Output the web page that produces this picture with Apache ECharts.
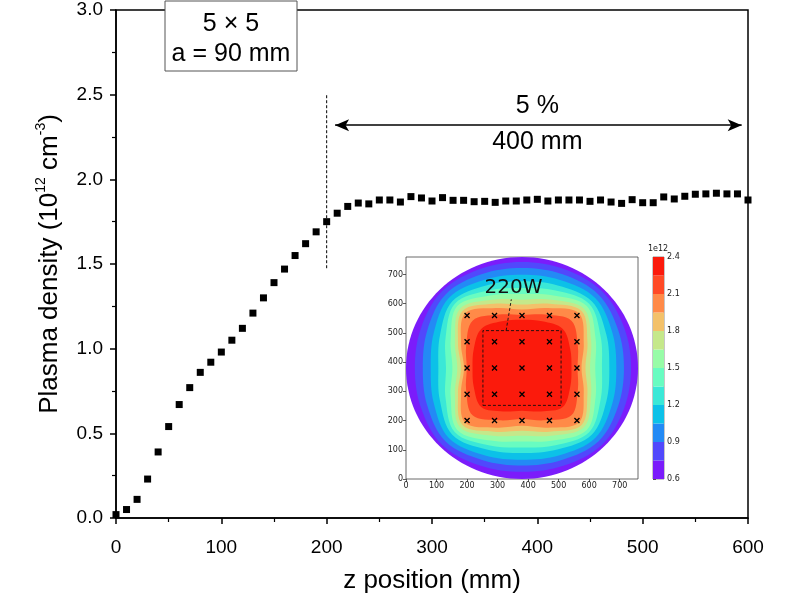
<!DOCTYPE html>
<html><head><meta charset="utf-8">
<script src="https://cdn.jsdelivr.net/npm/echarts@6/dist/echarts.min.js"></script>
<style>html,body{margin:0;padding:0;background:#fff}#c{width:800px;height:600px}</style>
</head><body><div id="c"></div>
<script>
// ---- main profile data ----
const zPos = [0,10,20,30,40,50,60,70,80,90,100,110,120,130,140,150,160,170,180,190,200,
  210,220,230,240,250,260,270,280,290,300,310,320,330,340,350,360,370,380,390,400,
  410,420,430,440,450,460,470,480,490,500,510,520,530,540,550,560,570,580,590,600];
const density = [0.02,0.05,0.11,0.23,0.39,0.54,0.67,0.77,0.86,0.92,0.98,1.05,1.12,1.21,1.30,1.39,1.47,1.55,1.62,1.69,1.75,
  1.80,1.84,1.86,1.855,1.878,1.878,1.866,1.898,1.89,1.872,1.892,1.876,1.876,1.868,1.87,1.864,1.872,1.872,1.878,1.882,
  1.872,1.878,1.878,1.878,1.87,1.878,1.866,1.858,1.88,1.862,1.862,1.896,1.884,1.90,1.912,1.914,1.918,1.914,1.914,1.878];
const xTicks = [0,100,200,300,400,500,600];
const yTicks = [0,0.5,1.0,1.5,2.0,2.5,3.0];
// annotations (data coordinates)
const dashLineX = [200,200];
const dashLineY = [1.475,2.5];
const spanX = [208,594];
const spanY = 2.32;
const spanTexts = ['5 %','400 mm'];
const spanTextX = 400;
const spanTextY = [2.43,2.22];
const boxTexts = ['5 \u00d7 5','a = 90 mm'];

// ---- inset (contour map) data ----
const probeX = [200,290,380,470,560];
const probeY = [200,290,380,470,560];
const waferCenter = [380,380];
const waferRadius = 380;
const levels = [0.6,0.75,0.9,1.05,1.2,1.35,1.5,1.65,1.8,1.95,2.1,2.25,2.4];
const cbTicks = [0.6,0.9,1.2,1.5,1.8,2.1,2.4];
const bandColors = ['#7b1cfb','#5148fc','#238af5','#0cc1e8','#3ae8d7','#68fcc1',
  '#97fca7','#c5e88a','#f3c16a','#ff8a48','#ff4a26','#fb1a0c'];
// contour boundary radii (mm from wafer centre) at 16 directions, 0deg = +x, counter-clockwise
const contourRadii = [
  [357,362,371,366,363,366,371,358,351,358,371,361,355,361,371,362], // 0.75
  [334,341,355,347,342,347,355,336,325,336,355,341,334,341,355,341], // 0.90
  [309,320,339,326,319,326,339,313,299,313,339,323,314,323,339,320], // 1.05
  [286,299,323,306,297,306,323,291,274,291,323,302,291,302,323,299], // 1.20
  [262,279,311,287,274,287,311,271,249,271,311,286,272,286,311,279], // 1.35
  [240,261,300,269,253,269,300,253,228,253,300,269,252,269,300,261], // 1.50
  [223,245,287,253,234,253,287,238,212,238,287,251,232,251,287,245], // 1.65
  [208,232,276,238,217,238,276,227,200,227,276,236,215,236,276,232], // 1.80
  [195,219,264,222,200,222,264,216,190,216,264,221,198,221,264,219], // 1.95
  [182,198,229,198,182,198,229,198,181,198,229,194,175,194,229,198], // 2.10
  [162,171,189,173,165,173,189,171,162,171,189,161,146,161,189,171]  // 2.25
];
const centerBoxX = [252,508];
const centerBoxY = [252,508];
const leaderX = [328,345];
const leaderY = [508,615];
const insetLabel = '220W';
const insetLabelPos = [352,656];

const FONT = '"Liberation Sans", Arial, sans-serif';
const MFONT = '"DejaVu Sans", sans-serif';

const chart = echarts.init(document.getElementById('c'), null, {renderer:'canvas'});

const insetAxis = (pos) => ({
  gridIndex: 1, type: 'value', min: 0, max: 760, interval: 100, position: pos,
  axisLine: {show: false},
  axisTick: {show: true, length: 3, lineStyle: {color: '#333', width: 0.8}},
  axisLabel: {fontSize: 8, color: '#222', fontFamily: MFONT, margin: 3, showMaxLabel: false},
  splitLine: {show: false}
});

const option = {
  backgroundColor: '#fff',
  animation: false,
  grid: [
    {left: 116, right: 52, top: 10, bottom: 82, show: true, borderColor: '#000', borderWidth: 1.5,
     backgroundColor: 'transparent', outerBoundsMode: 'none', containLabel: false},
    {left: 406, top: 257, width: 232, height: 222, show: true, borderColor: '#444', borderWidth: 0.8,
     backgroundColor: '#fff', outerBoundsMode: 'none', containLabel: false},
    {left: 653, top: 257, width: 11, height: 222, show: true, borderColor: '#444', borderWidth: 0.6,
     backgroundColor: 'transparent', outerBoundsMode: 'none', containLabel: false}
  ],
  xAxis: [
    {gridIndex: 0, type: 'value', min: xTicks[0], max: xTicks[xTicks.length-1], interval: 100,
     name: 'z position (mm)', nameLocation: 'middle', nameGap: 50,
     nameTextStyle: {fontSize: 26, color: '#000', fontFamily: FONT},
     axisLine: {show: true, onZero: false, lineStyle: {color: '#000', width: 1.5}},
     axisTick: {show: true, inside: false, length: 6, lineStyle: {color: '#000', width: 1.5}},
     minorTick: {show: true, splitNumber: 2, length: 4, lineStyle: {color: '#000', width: 1.2}},
     axisLabel: {fontSize: 19, color: '#000', fontFamily: FONT, margin: 20},
     splitLine: {show: false}, minorSplitLine: {show: false}},
    insetAxis('bottom'),
    {gridIndex: 2, type: 'value', min: 0, max: 1, show: false}
  ],
  yAxis: [
    {gridIndex: 0, type: 'value', min: yTicks[0], max: yTicks[yTicks.length-1], interval: 0.5,
     name: '{t|Plasma density (10}{s|12}{t| cm}{s|-3}{t|)}', nameLocation: 'middle', nameGap: 50, nameRotate: 90,
     nameTextStyle: {fontSize: 26, color: '#000', fontFamily: FONT,
       rich: {t: {fontSize: 26, color: '#000', fontFamily: FONT, lineHeight: 32},
              s: {fontSize: 14, color: '#000', fontFamily: FONT, verticalAlign: 'top'}}},
     axisLine: {show: true, onZero: false, lineStyle: {color: '#000', width: 1.5}},
     axisTick: {show: true, inside: false, length: 6, lineStyle: {color: '#000', width: 1.5}},
     minorTick: {show: true, splitNumber: 2, length: 4, lineStyle: {color: '#000', width: 1.2}},
     axisLabel: {fontSize: 19, color: '#000', fontFamily: FONT, margin: 13, formatter: v => v.toFixed(1)},
     splitLine: {show: false}, minorSplitLine: {show: false}},
    insetAxis('left'),
    {gridIndex: 2, type: 'value', min: levels[0], max: levels[levels.length-1], interval: 0.3, position: 'right',
     axisLine: {show: false},
     axisTick: {show: true, length: 3, lineStyle: {color: '#333', width: 0.8}},
     axisLabel: {fontSize: 8, color: '#222', fontFamily: MFONT, margin: 3, formatter: v => v.toFixed(1)},
     splitLine: {show: false}}
  ],
  graphic: [
    {type: 'rect', shape: {x: 165, y: 1, width: 132, height: 70}, style: {fill: '#fff', stroke: '#555', lineWidth: 1}, z: 100},
    {type: 'text', x: 231, y: 24, z: 101, style: {text: boxTexts[0], font: '25px ' + FONT, fill: '#000',
      textAlign: 'center', textVerticalAlign: 'middle', align: 'center', verticalAlign: 'middle'}},
    {type: 'text', x: 231, y: 54, z: 101, style: {text: boxTexts[1], font: '25px ' + FONT, fill: '#000',
      textAlign: 'center', textVerticalAlign: 'middle', align: 'center', verticalAlign: 'middle'}},
    {type: 'text', x: 658, y: 249, z: 101, style: {text: '1e12', font: '8px ' + MFONT, fill: '#222',
      textAlign: 'center', textVerticalAlign: 'middle', align: 'center', verticalAlign: 'middle'}}
  ],
  series: [
    {type: 'scatter', xAxisIndex: 0, yAxisIndex: 0, symbol: 'rect', symbolSize: 7,
     itemStyle: {color: '#000', opacity: 1}, z: 5,
     data: zPos.map((z, i) => [z, density[i]]),
     markLine: {silent: true, symbol: ['arrow', 'arrow'], symbolSize: [9, 14],
       lineStyle: {color: '#000', width: 1.5, type: 'solid', opacity: 1}, label: {show: false},
       data: [[{coord: [spanX[0], spanY]}, {coord: [spanX[1], spanY]}]]}},
    {type: 'line', xAxisIndex: 0, yAxisIndex: 0, symbol: 'none',
     lineStyle: {color: '#000', width: 1, type: [3, 2]},
     data: dashLineX.map((x, i) => [x, dashLineY[i]])},
    {type: 'scatter', xAxisIndex: 0, yAxisIndex: 0, symbolSize: 0, silent: true,
     itemStyle: {opacity: 1},
     label: {show: true, position: 'inside', formatter: p => p.name, fontSize: 25, color: '#000', opacity: 1, fontFamily: FONT},
     data: spanTexts.map((t, i) => ({name: t, value: [spanTextX, spanTextY[i]]}))},
    // wafer base
    {type: 'custom', xAxisIndex: 1, yAxisIndex: 1, silent: true, z: 2,
     data: [[waferCenter[0], waferCenter[1], waferRadius]],
     renderItem: (params, api) => {
       const c = api.coord([api.value(0), api.value(1)]);
       const s = api.size([api.value(2), api.value(2)]);
       return {type: 'ellipse', shape: {cx: c[0], cy: c[1], rx: s[0], ry: s[1]}, style: {fill: bandColors[0]}};
     }},
    // contour bands
    {type: 'custom', xAxisIndex: 1, yAxisIndex: 1, silent: true, z: 3,
     data: contourRadii.map((r, i) => [i]),
     renderItem: (params, api) => {
       const i = api.value(0);
       const pts = contourRadii[i].map((r, k) => {
         const a = k * Math.PI / 8;
         return api.coord([waferCenter[0] + r * Math.cos(a), waferCenter[1] + r * Math.sin(a)]);
       });
       return {type: 'polygon', shape: {points: pts, smooth: 0.35}, style: {fill: bandColors[i + 1]}};
     }},
    {type: 'line', xAxisIndex: 1, yAxisIndex: 1, symbol: 'none', z: 4,
     lineStyle: {color: '#111', width: 0.9, type: [3, 2]},
     data: [[centerBoxX[0], centerBoxY[0]], [centerBoxX[1], centerBoxY[0]], [centerBoxX[1], centerBoxY[1]],
            [centerBoxX[0], centerBoxY[1]], [centerBoxX[0], centerBoxY[0]]]},
    {type: 'line', xAxisIndex: 1, yAxisIndex: 1, symbol: 'none', z: 4,
     lineStyle: {color: '#111', width: 0.9, type: [3, 2]},
     data: leaderX.map((x, i) => [x, leaderY[i]])},
    {type: 'scatter', xAxisIndex: 1, yAxisIndex: 1, z: 5, silent: true,
     symbol: 'path://M0,0L10,10M10,0L0,10', symbolSize: 5,
     itemStyle: {color: 'rgba(0,0,0,0)', borderColor: '#000', borderWidth: 1.3, opacity: 1},
     data: probeY.flatMap(y => probeX.map(x => [x, y]))},
    {type: 'scatter', xAxisIndex: 1, yAxisIndex: 1, symbolSize: 0, z: 6, silent: true,
     itemStyle: {opacity: 1},
     label: {show: true, position: 'inside', formatter: p => p.name, fontSize: 20, color: '#111', fontFamily: MFONT},
     data: [{name: insetLabel, value: insetLabelPos}]},
    // colorbar
    {type: 'custom', xAxisIndex: 2, yAxisIndex: 2, silent: true,
     data: bandColors.map((c, i) => [i]),
     renderItem: (params, api) => {
       const i = api.value(0);
       const p0 = api.coord([0, levels[i]]);
       const p1 = api.coord([1, levels[i + 1]]);
       return {type: 'rect', shape: {x: p0[0], y: p1[1], width: p1[0] - p0[0], height: p0[1] - p1[1]},
               style: {fill: bandColors[i]}};
     }}
  ]
};
chart.setOption(option);
</script>
</body></html>
